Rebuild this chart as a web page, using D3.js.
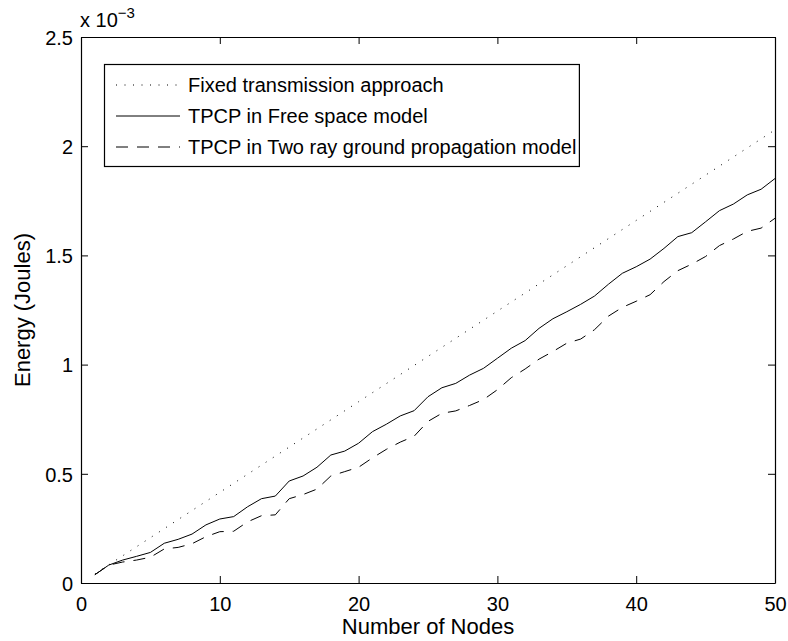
<!DOCTYPE html>
<html><head><meta charset="utf-8">
<script src="https://cdn.jsdelivr.net/npm/d3@7"></script>
<style>body{margin:0;background:#fff;} text{font-family:"Liberation Sans",Arial,sans-serif;}</style>
</head><body>
<svg id="c" width="788" height="641"></svg>
<script>
const nodes = d3.range(1, 51);
const fixedTx = [0.0415,0.083,0.1245,0.166,0.2075,0.249,0.2905,0.332,0.3735,0.415,0.4565,0.498,0.5395,0.581,0.6225,0.664,0.7055,0.747,0.7885,0.83,0.8715,0.913,0.9545,0.996,1.0375,1.079,1.1205,1.162,1.2035,1.245,1.2865,1.328,1.3695,1.411,1.4525,1.494,1.5355,1.577,1.6185,1.66,1.7015,1.743,1.7845,1.826,1.8675,1.909,1.9505,1.992,2.0335,2.075];
const freeSpace = [0.038,0.082,0.105,0.122,0.14,0.182,0.20,0.224,0.266,0.293,0.304,0.349,0.386,0.398,0.467,0.49,0.53,0.586,0.604,0.64,0.693,0.727,0.765,0.789,0.853,0.894,0.914,0.952,0.983,1.029,1.075,1.11,1.166,1.21,1.242,1.276,1.314,1.368,1.418,1.448,1.483,1.532,1.586,1.604,1.654,1.705,1.735,1.777,1.803,1.852];
const twoRay = [0.038,0.082,0.096,0.105,0.118,0.156,0.163,0.18,0.212,0.235,0.237,0.28,0.308,0.312,0.386,0.405,0.43,0.49,0.51,0.53,0.573,0.612,0.645,0.672,0.74,0.777,0.788,0.813,0.84,0.885,0.94,0.98,1.025,1.06,1.098,1.117,1.16,1.222,1.262,1.29,1.32,1.38,1.43,1.46,1.495,1.545,1.575,1.61,1.625,1.67];
const xTicks = [0,10,20,30,40,50];
const yTicks = [0,0.5,1,1.5,2,2.5];
const yTickLabels = ["0","0.5","1","1.5","2","2.5"];
const seriesNames = ["Fixed transmission approach","TPCP in Free space model","TPCP in Two ray ground propagation model"];
const dashes = ["1,7.5","none","12,9"];
const series = [fixedTx, freeSpace, twoRay];

const svg = d3.select("#c");
const L=81, R=775, T=37, B=583;
const x = d3.scaleLinear().domain([0,50]).range([L,R]);
const y = d3.scaleLinear().domain([0,2.5]).range([B,T]);
const FS = 20, LFS = 22, GFS = 20;

// data lines
const line = d3.line().x((d,i)=>x(nodes[i])).y(d=>y(d));
series.forEach((s,k)=>{
  svg.append("path").datum(s).attr("d",line).attr("fill","none")
    .attr("stroke","#000").attr("stroke-width",1)
    .attr("stroke-dasharray",dashes[k]==="none"?null:dashes[k]);
});

// axes (inward ticks, box)
const tl = 7;
const axB = svg.append("g").attr("transform",`translate(0,${B})`)
  .call(d3.axisBottom(x).tickValues(xTicks).tickSizeInner(-tl).tickSizeOuter(0).tickPadding(14).tickFormat(d3.format("d")));
const axT = svg.append("g").attr("transform",`translate(0,${T})`)
  .call(d3.axisTop(x).tickValues(xTicks).tickSizeInner(-tl).tickSizeOuter(0).tickFormat(""));
const axL = svg.append("g").attr("transform",`translate(${L},0)`)
  .call(d3.axisLeft(y).tickValues(yTicks).tickSizeInner(-tl).tickSizeOuter(0).tickPadding(8).tickFormat((d,i)=>yTickLabels[i]));
const axR = svg.append("g").attr("transform",`translate(${R},0)`)
  .call(d3.axisRight(y).tickValues(yTicks).tickSizeInner(-tl).tickSizeOuter(0).tickFormat(""));
[axB,axT,axL,axR].forEach(a=>{
  a.selectAll("path").attr("stroke","#000").attr("stroke-width",1.2);
  a.selectAll("line").attr("stroke","#000");
  a.selectAll("text").attr("font-size",FS).attr("fill","#000").attr("font-family","'Liberation Sans',Arial,sans-serif");
});
axB.selectAll("text").attr("dy","0.71em");
axL.selectAll("text").attr("dy","0.36em");

// exponent label
const ex = svg.append("text").attr("x",80).attr("y",27).attr("font-size",FS).attr("fill","#000");
ex.append("tspan").text("x 10");
ex.append("tspan").attr("font-size",15).attr("dy",-9).text("\u22123");

// axis titles
svg.append("text").attr("x",(L+R)/2).attr("y",634).attr("text-anchor","middle").attr("font-size",LFS).text("Number of Nodes");
svg.append("text").attr("transform",`translate(30,${(T+B)/2}) rotate(-90)`).attr("text-anchor","middle").attr("font-size",LFS).text("Energy (Joules)");

// legend
const lg = svg.append("g");
const box = lg.append("rect").attr("x",104.5).attr("y",64.5).attr("height",102).attr("fill","#fff").attr("stroke","#000").attr("stroke-width",1.2);
let maxEnd = 0;
seriesNames.forEach((n,k)=>{
  const yy = 85 + k*31;
  lg.append("line").attr("x1",116).attr("x2",180).attr("y1",yy).attr("y2",yy).attr("stroke","#000").attr("stroke-width",1)
    .attr("stroke-dasharray",dashes[k]==="none"?null:dashes[k]);
  const t = lg.append("text").attr("x",188).attr("y",yy).attr("dy","0.35em").attr("font-size",GFS).text(n);
  maxEnd = Math.max(maxEnd, 188 + t.node().getComputedTextLength());
});
box.attr("width", maxEnd + 3 - 104.5);
</script>
</body></html>
